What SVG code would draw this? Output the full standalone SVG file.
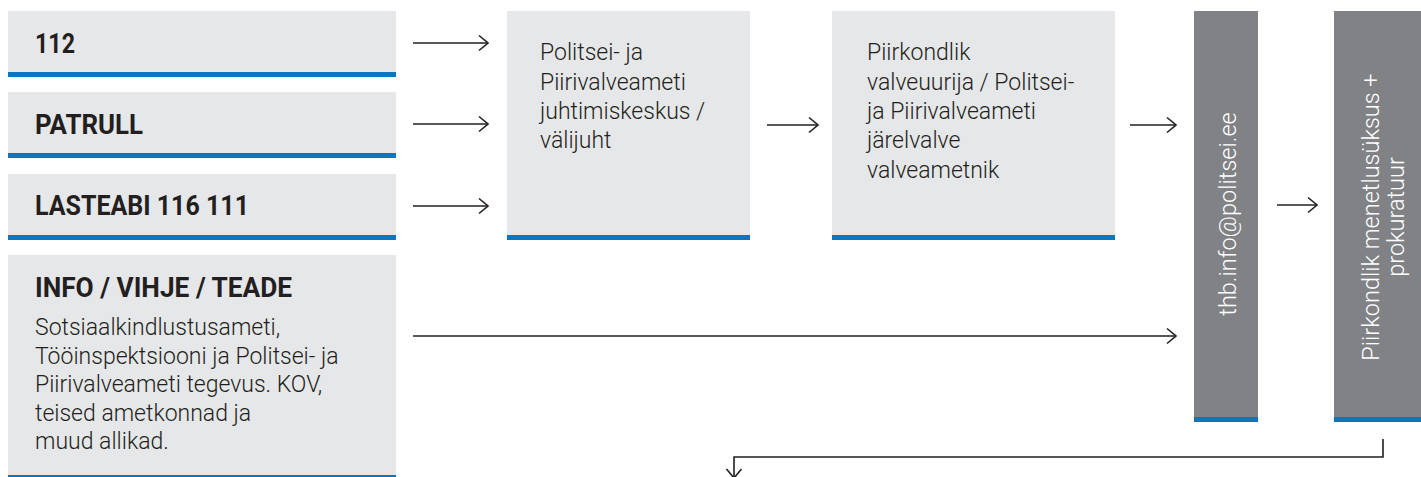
<svg xmlns="http://www.w3.org/2000/svg" width="1421" height="477" viewBox="0 0 1421 477">
<defs>
<style>
.box{fill:#e6e7e8}
.dbox{fill:#808285}
.bar{fill:#0a77c0}
.h{font-family:Roboto,"Liberation Sans",sans-serif;font-weight:700;font-size:27px;fill:#231f20}
.t{font-family:Roboto,"Liberation Sans",sans-serif;font-weight:300;font-size:23px;fill:#231f20}
.w{font-family:Roboto,"Liberation Sans",sans-serif;font-weight:300;font-size:23.5px;fill:#ffffff}
.c{fill:none;stroke:#231f20;stroke-width:1.6}
</style>
<marker id="ah" viewBox="0 0 12 18" refX="11" refY="9" markerWidth="12" markerHeight="18" markerUnits="userSpaceOnUse" orient="auto">
<path d="M2,1.5 L11,9 L2,16.5" fill="none" stroke="#231f20" stroke-width="1.6"/>
</marker>
</defs>
<g id="n112">
<rect class="box" x="8" y="11" width="388" height="66"/>
<rect class="bar" x="8" y="72" width="388" height="5"/>
<text class="h" x="35" y="53" textLength="40" lengthAdjust="spacingAndGlyphs">112</text>
</g>
<g id="npatrull">
<rect class="box" x="8" y="92" width="388" height="66"/>
<rect class="bar" x="8" y="153" width="388" height="5"/>
<text class="h" x="35" y="134" textLength="108" lengthAdjust="spacingAndGlyphs">PATRULL</text>
</g>
<g id="nlasteabi">
<rect class="box" x="8" y="174" width="388" height="66"/>
<rect class="bar" x="8" y="235" width="388" height="5"/>
<text class="h" x="35" y="215" textLength="214" lengthAdjust="spacingAndGlyphs">LASTEABI 116 111</text>
</g>
<g id="ninfo">
<rect class="box" x="8" y="255" width="388" height="222"/>
<rect class="bar" x="8" y="475" width="388" height="2"/>
<text class="h" x="35" y="297" textLength="257" lengthAdjust="spacingAndGlyphs">INFO / VIHJE / TEADE</text>
<text class="t" x="35" y="335">Sotsiaalkindlustusameti,</text>
<text class="t" x="35" y="364">Tööinspektsiooni ja Politsei- ja</text>
<text class="t" x="35" y="392">Piirivalveameti tegevus. KOV,</text>
<text class="t" x="35" y="421">teised ametkonnad ja</text>
<text class="t" x="35" y="449">muud allikad.</text>
</g>
<g id="njuhtimiskeskus">
<rect class="box" x="507" y="11" width="243" height="229"/>
<rect class="bar" x="507" y="235" width="243" height="5"/>
<text class="t" x="540" y="60">Politsei- ja</text>
<text class="t" x="540" y="90">Piirivalveameti</text>
<text class="t" x="540" y="119">juhtimiskeskus /</text>
<text class="t" x="540" y="148">välijuht</text>
</g>
<g id="nvalveuurija">
<rect class="box" x="832" y="11" width="283" height="229"/>
<rect class="bar" x="832" y="235" width="283" height="5"/>
<text class="t" x="867" y="60">Piirkondlik</text>
<text class="t" x="867" y="90">valveuurija / Politsei-</text>
<text class="t" x="867" y="119">ja Piirivalveameti</text>
<text class="t" x="867" y="148">järelvalve</text>
<text class="t" x="867" y="178">valveametnik</text>
</g>
<g id="nthb">
<rect class="dbox" x="1194" y="11" width="64" height="411"/>
<rect class="bar" x="1194" y="417" width="64" height="5"/>
<text class="w" transform="translate(1236,214) rotate(-90)" text-anchor="middle">thb.info@politsei.ee</text>
</g>
<g id="nmenetlus">
<rect class="dbox" x="1334" y="11" width="87" height="411"/>
<rect class="bar" x="1334" y="417" width="87" height="5"/>
<text class="w" transform="translate(1379,217) rotate(-90)" text-anchor="middle">Piirkondlik menetlusüksus +</text>
<text class="w" transform="translate(1404,217) rotate(-90)" text-anchor="middle">prokuratuur</text>
</g>
<g id="connectors">
<line class="c" x1="413" y1="43" x2="488" y2="43" marker-end="url(#ah)"/>
<line class="c" x1="413" y1="124" x2="488" y2="124" marker-end="url(#ah)"/>
<line class="c" x1="413" y1="206" x2="488" y2="206" marker-end="url(#ah)"/>
<line class="c" x1="767" y1="125" x2="818" y2="125" marker-end="url(#ah)"/>
<line class="c" x1="1130" y1="125" x2="1176" y2="125" marker-end="url(#ah)"/>
<line class="c" x1="1277" y1="205" x2="1317" y2="205" marker-end="url(#ah)"/>
<line class="c" x1="413" y1="336" x2="1176" y2="336" marker-end="url(#ah)"/>
<polyline class="c" points="1383,439 1383,457 734,457 734,478" marker-end="url(#ah)"/>
</g>
</svg>
